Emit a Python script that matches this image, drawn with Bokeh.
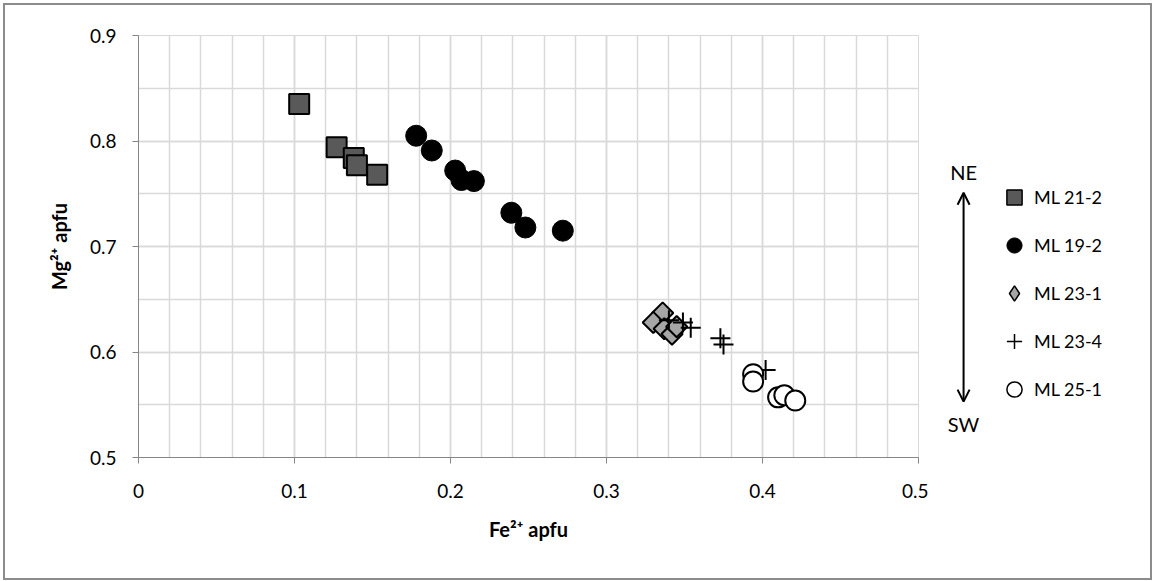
from bokeh.plotting import figure
from bokeh.layouts import row
from bokeh.models import (Range1d, SingleIntervalTicker, CustomJSTickFormatter, Legend,
                          LegendItem, Arrow, OpenHead, Label)
from bokeh.embed import file_html
from bokeh.resources import INLINE
import numpy as np

# ---- data ----
series_names = ["ML 21-2", "ML 19-2", "ML 23-1", "ML 23-4", "ML 25-1"]

ml212_fe = [0.103, 0.127, 0.138, 0.140, 0.153]
ml212_mg = [0.835, 0.794, 0.784, 0.777, 0.768]

ml192_fe = [0.178, 0.188, 0.203, 0.207, 0.215, 0.239, 0.248, 0.272]
ml192_mg = [0.805, 0.791, 0.772, 0.763, 0.762, 0.732, 0.718, 0.715]

ml231_fe = [0.336, 0.330, 0.337, 0.342, 0.345]
ml231_mg = [0.637, 0.628, 0.622, 0.617, 0.624]

ml234_fe = [0.340, 0.349, 0.354, 0.373, 0.375, 0.402]
ml234_mg = [0.630, 0.628, 0.623, 0.613, 0.607, 0.583]

ml251_fe = [0.394, 0.394, 0.410, 0.414, 0.421]
ml251_mg = [0.579, 0.572, 0.557, 0.559, 0.554]

x_axis_title = "Fe\u00b2\u207a apfu"
y_axis_title = "Mg\u00b2\u207a apfu"
direction_top = "NE"
direction_bottom = "SW"

FONT = "Lato"

styles = [
    dict(marker="square", size=20, fill_color="#595959", line_color="#000000", line_width=2),
    dict(marker="circle", size=21, fill_color="#000000", line_color="#000000", line_width=1),
    dict(marker="square", size=15, angle=np.pi / 4, fill_color="#a6a6a6",
         line_color="#000000", line_width=2),
    dict(marker="cross", size=20, line_color="#000000", line_width=2),
    dict(marker="circle", size=20, fill_color="#ffffff", line_color="#000000", line_width=2),
]
legend_styles = [
    dict(marker="square", fill_color="#595959", line_color="#000000", line_width=1.5),
    dict(marker="circle", fill_color="#000000", line_color="#000000", line_width=1),
    dict(marker="diamond", fill_color="#a6a6a6", line_color="#000000", line_width=1.5),
    dict(marker="cross", line_color="#000000", line_width=1.5),
    dict(marker="circle", fill_color="#ffffff", line_color="#000000", line_width=1.5),
]
series = [(ml212_fe, ml212_mg), (ml192_fe, ml192_mg), (ml231_fe, ml231_mg),
          (ml234_fe, ml234_mg), (ml251_fe, ml251_mg)]

# ---- main plot ----
p = figure(width=923, height=573, output_backend="svg", toolbar_location=None,
           x_range=Range1d(0, 0.5), y_range=Range1d(0.5, 0.9),
           min_border_left=133, min_border_right=10, min_border_top=30, min_border_bottom=121)
p.outline_line_color = "#d9d9d9"
p.background_fill_color = "white"
p.border_fill_color = "white"

p.xaxis.ticker = SingleIntervalTicker(interval=0.1, num_minor_ticks=5)
p.yaxis.ticker = SingleIntervalTicker(interval=0.1, num_minor_ticks=2)
fmt = CustomJSTickFormatter(code="return String(Number(tick.toFixed(2)));")
for ax in (p.xaxis, p.yaxis):
    ax.formatter = fmt
    ax.axis_line_color = "#868686"
    ax.major_tick_line_color = "#868686"
    ax.major_tick_in = 0
    ax.major_tick_out = 6
    ax.minor_tick_line_color = None
    ax.major_label_text_font = FONT
    ax.major_label_text_font_size = "19px"
    ax.major_label_text_color = "#000000"
    ax.axis_label_text_font = FONT
    ax.axis_label_text_font_style = "bold"
    ax.axis_label_text_font_size = "20px"
    ax.axis_label_text_color = "#000000"
p.xaxis.major_label_standoff = 20
p.yaxis.major_label_standoff = 16
p.xaxis.axis_label = x_axis_title
p.yaxis.axis_label = y_axis_title
p.xaxis.axis_label_standoff = 16
p.yaxis.axis_label_standoff = 16

for g in (p.xgrid, p.ygrid):
    g.grid_line_color = "#d9d9d9"
    g.grid_line_width = 1.5
    g.minor_grid_line_color = "#d9d9d9"
    g.minor_grid_line_width = 1.5

for (xs, ys), st in zip(series, styles):
    p.scatter(xs, ys, **st)

# ---- side panel: direction arrow and legend ----
p2 = figure(width=222, height=573, output_backend="svg", toolbar_location=None,
            x_range=Range1d(0, 1), y_range=Range1d(0.5, 0.9),
            x_axis_type=None, y_axis_type=None,
            min_border_left=0, min_border_right=0, min_border_top=30, min_border_bottom=121)
p2.grid.visible = False
p2.outline_line_color = None
p2.border_fill_color = "white"

# legend-only renderers (a single NaN point, so nothing is drawn in the panel itself)
legend_renderers = [p2.scatter(np.array([np.nan]), np.array([np.nan]), **st)
                    for st in legend_styles]
legend = Legend(items=[LegendItem(label=n, renderers=[r]) for n, r in
                       zip(series_names, legend_renderers)],
                location=(67, 48), orientation="vertical",
                glyph_width=38, glyph_height=40, spacing=8, padding=0, margin=0,
                label_standoff=1, label_text_font=FONT, label_text_font_size="18px",
                label_text_color="#000000", border_line_color=None,
                background_fill_alpha=0)
p2.add_layout(legend, "center")

arrow = Arrow(start=OpenHead(size=12, line_width=2), end=OpenHead(size=12, line_width=2),
              x_start=0.158, y_start=0.751, x_end=0.158, y_end=0.553, line_width=2,
              line_color="#000000")
p2.add_layout(arrow)
p2.add_layout(Label(x=0.158, y=0.771, text=direction_top, text_align="center",
                    text_baseline="middle", text_font=FONT, text_font_size="20px",
                    text_color="#000000"))
p2.add_layout(Label(x=0.158, y=0.532, text=direction_bottom, text_align="center",
                    text_baseline="middle", text_font=FONT, text_font_size="20px",
                    text_color="#000000"))

layout = row(p, p2, spacing=0)
layout.margin = (3, 0, 0, 3)
layout.styles = {"border": "2px solid #8c8c8c"}

open("out.html", "w").write(file_html(layout, INLINE))
